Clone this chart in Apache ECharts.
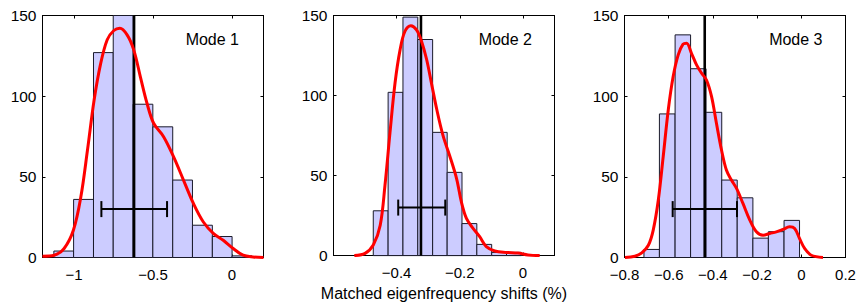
<!DOCTYPE html>
<html>
<head>
<meta charset="utf-8">
<script src="https://cdn.jsdelivr.net/npm/echarts@6/dist/echarts.min.js"></script>
<style>
  html, body { margin: 0; padding: 0; background: #fff; }
  #main { width: 862px; height: 306px; }
</style>
</head>
<body>
<div id="main"></div>
<script>
// values
var modeNames = ["Mode 1", "Mode 2", "Mode 3"];
var yTicks = [0, 50, 100, 150];
var xTicks1 = [-1, -0.5, 0];
var xTicks2 = [-0.4, -0.2, 0];
var xTicks3 = [-0.8, -0.6, -0.4, -0.2, 0, 0.2];

// histogram bin edges and counts
var edges1 = [-1.128, -1.003, -0.877, -0.752, -0.626, -0.501, -0.375, -0.250, -0.124, 0.001, 0.127];
var counts1 = [4, 36, 127, 150, 95, 81, 48, 20, 13, 1];
var edges2 = [-0.474, -0.427, -0.380, -0.333, -0.286, -0.240, -0.193, -0.146, -0.099, -0.052, -0.005];
var counts2 = [28, 102, 149, 135, 77, 52, 20, 7, 2, 2];
var edges3 = [-0.712, -0.642, -0.571, -0.501, -0.431, -0.360, -0.290, -0.219, -0.149, -0.078, -0.008];
var counts3 = [5, 89, 138, 117, 90, 48, 37, 12, 16, 23];

// mean (vertical line) and spread (horizontal bar: low, high, level)
var means = [-0.62, -0.323, -0.437];
var spread1 = [-0.827, -0.411, 30];
var spread2 = [-0.395, -0.246, 30];
var spread3 = [-0.582, -0.291, 30];

// density curves (scaled to counts)
var kdeX1 = [-1.2, -1.126, -1.063, -1.004, -0.957, -0.915, -0.873, -0.832, -0.790, -0.748, -0.710, -0.664, -0.622, -0.580, -0.538, -0.496, -0.433, -0.370, -0.307, -0.244, -0.181, -0.118, -0.055, 0.008, 0.071, 0.134, 0.2];
var kdeY1 = [0.8, 1.4, 5.6, 17, 37.6, 66.6, 97.6, 120, 135, 140.7, 142.1, 138, 128.7, 112, 95.6, 83.2, 74.9, 62.5, 48, 33.5, 22, 15, 10.7, 5.6, 1.4, 0.3, 0];
var kdeX2 = [-0.534, -0.500, -0.474, -0.452, -0.437, -0.421, -0.405, -0.389, -0.374, -0.355, -0.337, -0.321, -0.305, -0.289, -0.273, -0.253, -0.232, -0.210, -0.195, -0.179, -0.158, -0.137, -0.116, -0.089, -0.052, -0.016, 0.016, 0.053];
var kdeY2 = [0, 1.4, 6.6, 19, 43.8, 77, 108, 128.7, 140, 143.6, 141, 133.8, 122.5, 107, 91.4, 74.9, 62.4, 48, 33.5, 23.2, 17, 11.8, 5.6, 2.9, 2, 1.6, 0.4, 0];
var kdeX3 = [-0.798, -0.753, -0.722, -0.692, -0.670, -0.647, -0.625, -0.602, -0.580, -0.557, -0.535, -0.519, -0.497, -0.474, -0.451, -0.429, -0.406, -0.384, -0.361, -0.339, -0.316, -0.293, -0.264, -0.233, -0.203, -0.173, -0.143, -0.113, -0.083, -0.053, -0.030, -0.008, 0.015, 0.045, 0.098];
var kdeY3 = [0, 0.8, 2.9, 7.6, 17, 35.6, 62.4, 91.4, 112, 125.6, 132.2, 132.8, 126.6, 119.4, 114.2, 110, 99.7, 83.2, 66.6, 54.2, 48, 42.8, 33.5, 23.2, 15.9, 13.8, 14.9, 15.9, 17.4, 19, 18, 11.8, 5.6, 1.4, 0];

var xRanges = [[-1.2, 0.2], [-0.6, 0.1], [-0.8, 0.2]];

var FONT = "'Liberation Sans', Arial, Helvetica, sans-serif";
var myChart = echarts.init(document.getElementById("main"), null, { renderer: "svg" });

var allEdges = [edges1, edges2, edges3];
var allCounts = [counts1, counts2, counts3];
var allSpread = [spread1, spread2, spread3];
var allKdeX = [kdeX1, kdeX2, kdeX3];
var allKdeY = [kdeY1, kdeY2, kdeY3];
var allXTicks = [xTicks1, xTicks2, xTicks3];

var gridLefts = [42.5, 333.5, 624.5];
var titleRights = [623, 330, 39.5];

function fmt(v) {
  return String(v).replace("-", "\u2212");
}

var grids = [], xAxes = [], yAxes = [], series = [], titles = [];

for (var i = 0; i < 3; i++) {
  grids.push({ left: gridLefts[i], top: 15.5, width: 221, height: 242 });

  // bottom + top x axes (box with inward ticks)
  xAxes.push({
    type: "value", gridIndex: i, min: xRanges[i][0], max: xRanges[i][1],
    position: "bottom",
    axisLine: { show: true, onZero: false, lineStyle: { color: "#000", width: 1 } },
    axisTick: { show: true, inside: true, length: 3, customValues: allXTicks[i], lineStyle: { color: "#000" } },
    axisLabel: { show: true, customValues: allXTicks[i], formatter: fmt, color: "#000", fontSize: 15, lineHeight: 14, fontFamily: FONT, margin: 10 },
    splitLine: { show: false },
    name: i === 1 ? "Matched eigenfrequency shifts (%)" : "",
    nameLocation: "middle", nameGap: 25,
    nameTextStyle: { color: "#000", fontSize: 16, fontFamily: FONT }
  });
  xAxes.push({
    type: "value", gridIndex: i, min: xRanges[i][0], max: xRanges[i][1],
    position: "top",
    axisLine: { show: true, onZero: false, lineStyle: { color: "#000", width: 1 } },
    axisTick: { show: true, inside: true, length: 3, customValues: allXTicks[i], lineStyle: { color: "#000" } },
    axisLabel: { show: false },
    splitLine: { show: false }
  });
  yAxes.push({
    type: "value", gridIndex: i, min: 0, max: 150,
    position: "left",
    axisLine: { show: true, onZero: false, lineStyle: { color: "#000", width: 1 } },
    axisTick: { show: true, inside: true, length: 3, customValues: yTicks, lineStyle: { color: "#000" } },
    axisLabel: { show: true, customValues: yTicks, color: "#000", fontSize: 15.5, lineHeight: 12, fontFamily: FONT, margin: 6 },
    splitLine: { show: false }
  });
  yAxes.push({
    type: "value", gridIndex: i, min: 0, max: 150,
    position: "right",
    axisLine: { show: true, onZero: false, lineStyle: { color: "#000", width: 1 } },
    axisTick: { show: true, inside: true, length: 3, customValues: yTicks, lineStyle: { color: "#000" } },
    axisLabel: { show: false },
    splitLine: { show: false }
  });

  titles.push({
    text: modeNames[i], right: titleRights[i], top: 31, padding: 0,
    textStyle: { color: "#000", fontSize: 16, fontWeight: "normal", fontFamily: FONT }
  });

  // histogram bars
  var bars = [];
  for (var k = 0; k < allCounts[i].length; k++) {
    bars.push([allEdges[i][k], allEdges[i][k + 1], allCounts[i][k]]);
  }
  series.push({
    type: "custom", xAxisIndex: 2 * i, yAxisIndex: 2 * i, z: 2,
    data: bars,
    renderItem: function (params, api) {
      var p0 = api.coord([api.value(0), api.value(2)]);
      var p1 = api.coord([api.value(1), 0]);
      return {
        type: "rect",
        shape: { x: p0[0], y: p0[1], width: p1[0] - p0[0], height: p1[1] - p0[1] },
        style: { fill: "#ccccff", stroke: "#1a1a2a", lineWidth: 1 }
      };
    }
  });

  // mean line
  series.push({
    type: "line", xAxisIndex: 2 * i, yAxisIndex: 2 * i, z: 3,
    data: [[means[i], 0], [means[i], 150]],
    symbol: "none", silent: true,
    lineStyle: { color: "#000", width: 2.6 }
  });

  // spread bar with end caps
  series.push({
    type: "custom", xAxisIndex: 2 * i, yAxisIndex: 2 * i, z: 4,
    data: [allSpread[i]],
    renderItem: function (params, api) {
      var a = api.coord([api.value(0), api.value(2)]);
      var b = api.coord([api.value(1), api.value(2)]);
      var st = { stroke: "#000", lineWidth: 2 };
      return {
        type: "group",
        children: [
          { type: "line", shape: { x1: a[0], y1: a[1], x2: b[0], y2: b[1] }, style: st },
          { type: "line", shape: { x1: a[0], y1: a[1] - 8, x2: a[0], y2: a[1] + 8 }, style: st },
          { type: "line", shape: { x1: b[0], y1: b[1] - 8, x2: b[0], y2: b[1] + 8 }, style: st }
        ]
      };
    }
  });

  // density curve
  var pts = [];
  for (var j = 0; j < allKdeX[i].length; j++) pts.push([allKdeX[i][j], allKdeY[i][j]]);
  series.push({
    type: "line", xAxisIndex: 2 * i, yAxisIndex: 2 * i, z: 5,
    data: pts, smooth: 0.35, symbol: "none", silent: true,
    lineStyle: { color: "#ff0000", width: 3 }
  });
}

var option = {
  animation: false,
  backgroundColor: "#fff",
  title: titles,
  grid: grids,
  xAxis: xAxes,
  yAxis: yAxes,
  series: series
};

myChart.setOption(option);
</script>
</body>
</html>
